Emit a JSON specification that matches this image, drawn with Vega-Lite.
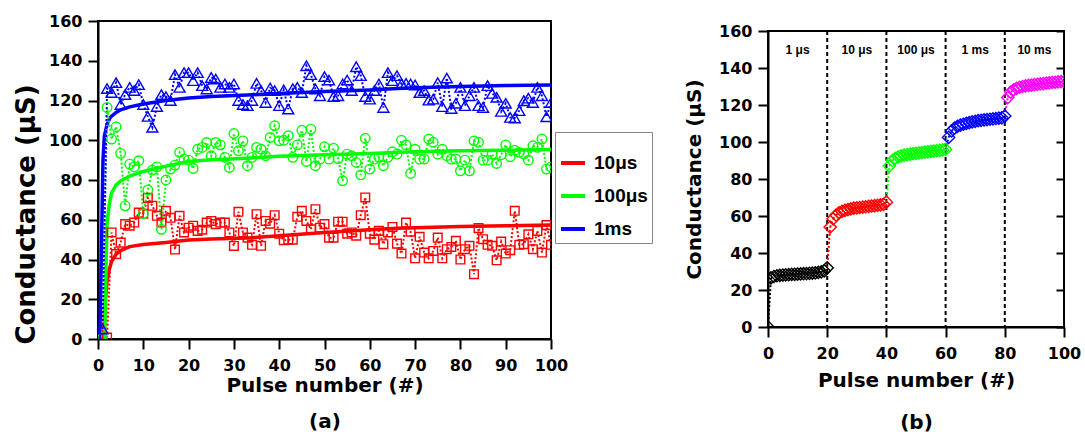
{
"$schema": "https://vega.github.io/schema/vega-lite/v6.json",
"background": "white",
"padding": {"left": 12, "top": 12, "right": 2, "bottom": 2},
"config": {
  "font": "DejaVu Sans",
  "view": {"stroke": "black", "strokeWidth": 2},
  "axis": {"domainColor": "black", "domainWidth": 2, "tickColor": "black", "tickWidth": 2, "tickSize": 10, "labelFont": "DejaVu Sans", "labelFontWeight": "bold", "labelFontSize": 16, "labelColor": "black", "labelOverlap": false, "labelFlush": false, "titleFont": "DejaVu Sans", "titleFontWeight": "bold", "titleColor": "black", "grid": false, "labelPadding": 6}
},
"spacing": 29,
"resolve": {"scale": {"color": "independent", "x": "independent", "y": "independent"}},
"datasets": {
  "raw": [
    {"n":2,"v":0.7,"s":"10μs"},{"n":3,"v":53.6,"s":"10μs"},{"n":4,"v":42.7,"s":"10μs"},{"n":5,"v":48.5,"s":"10μs"},{"n":6,"v":57.8,"s":"10μs"},{"n":7,"v":57,"s":"10μs"},{"n":8,"v":58.6,"s":"10μs"},{"n":9,"v":63.6,"s":"10μs"},{"n":10,"v":63,"s":"10μs"},{"n":11,"v":71,"s":"10μs"},{"n":12,"v":67,"s":"10μs"},{"n":13,"v":62,"s":"10μs"},{"n":14,"v":58.6,"s":"10μs"},{"n":15,"v":64.5,"s":"10μs"},{"n":16,"v":61,"s":"10μs"},{"n":17,"v":45,"s":"10μs"},{"n":18,"v":62,"s":"10μs"},{"n":19,"v":53.6,"s":"10μs"},{"n":20,"v":56,"s":"10μs"},{"n":21,"v":57,"s":"10μs"},{"n":22,"v":54.4,"s":"10μs"},{"n":23,"v":55,"s":"10μs"},{"n":24,"v":58.6,"s":"10μs"},{"n":25,"v":59.4,"s":"10μs"},{"n":26,"v":57.8,"s":"10μs"},{"n":27,"v":58.6,"s":"10μs"},{"n":28,"v":58.6,"s":"10μs"},{"n":29,"v":53.6,"s":"10μs"},{"n":30,"v":46.8,"s":"10μs"},{"n":31,"v":64,"s":"10μs"},{"n":32,"v":53.6,"s":"10μs"},{"n":33,"v":51,"s":"10μs"},{"n":34,"v":47.4,"s":"10μs"},{"n":35,"v":62.8,"s":"10μs"},{"n":36,"v":46.9,"s":"10μs"},{"n":37,"v":59.4,"s":"10μs"},{"n":38,"v":58,"s":"10μs"},{"n":39,"v":62.3,"s":"10μs"},{"n":40,"v":53,"s":"10μs"},{"n":41,"v":49.7,"s":"10μs"},{"n":42,"v":50,"s":"10μs"},{"n":43,"v":50,"s":"10μs"},{"n":44,"v":61.5,"s":"10μs"},{"n":45,"v":64.5,"s":"10μs"},{"n":46,"v":59.4,"s":"10μs"},{"n":47,"v":55.2,"s":"10μs"},{"n":48,"v":65.3,"s":"10μs"},{"n":49,"v":56,"s":"10μs"},{"n":50,"v":57.8,"s":"10μs"},{"n":51,"v":51,"s":"10μs"},{"n":52,"v":51,"s":"10μs"},{"n":53,"v":59,"s":"10μs"},{"n":54,"v":59,"s":"10μs"},{"n":55,"v":53,"s":"10μs"},{"n":56,"v":53.6,"s":"10μs"},{"n":57,"v":52,"s":"10μs"},{"n":58,"v":62.3,"s":"10μs"},{"n":59,"v":71.2,"s":"10μs"},{"n":60,"v":53,"s":"10μs"},{"n":61,"v":50,"s":"10μs"},{"n":62,"v":54.4,"s":"10μs"},{"n":63,"v":47.7,"s":"10μs"},{"n":64,"v":53.6,"s":"10μs"},{"n":65,"v":56.4,"s":"10μs"},{"n":66,"v":48,"s":"10μs"},{"n":67,"v":43,"s":"10μs"},{"n":68,"v":58.6,"s":"10μs"},{"n":69,"v":54,"s":"10μs"},{"n":70,"v":40.6,"s":"10μs"},{"n":71,"v":51.4,"s":"10μs"},{"n":72,"v":43.5,"s":"10μs"},{"n":73,"v":40.6,"s":"10μs"},{"n":74,"v":44.3,"s":"10μs"},{"n":75,"v":51,"s":"10μs"},{"n":76,"v":40.6,"s":"10μs"},{"n":77,"v":45.2,"s":"10μs"},{"n":78,"v":46.3,"s":"10μs"},{"n":79,"v":49.4,"s":"10μs"},{"n":80,"v":40,"s":"10μs"},{"n":81,"v":45.2,"s":"10μs"},{"n":82,"v":46.9,"s":"10μs"},{"n":83,"v":32.6,"s":"10μs"},{"n":84,"v":55.8,"s":"10μs"},{"n":85,"v":50.2,"s":"10μs"},{"n":86,"v":47.4,"s":"10μs"},{"n":87,"v":46.9,"s":"10μs"},{"n":88,"v":39.6,"s":"10μs"},{"n":89,"v":49,"s":"10μs"},{"n":90,"v":43,"s":"10μs"},{"n":91,"v":44.7,"s":"10μs"},{"n":92,"v":64.5,"s":"10μs"},{"n":93,"v":47.4,"s":"10μs"},{"n":94,"v":47.7,"s":"10μs"},{"n":95,"v":52.7,"s":"10μs"},{"n":96,"v":45.2,"s":"10μs"},{"n":97,"v":54.4,"s":"10μs"},{"n":98,"v":43.5,"s":"10μs"},{"n":99,"v":57.3,"s":"10μs"},{"n":100,"v":47.4,"s":"10μs"},
    {"n":1,"v":0.5,"s":"100μs"},{"n":2,"v":116.5,"s":"100μs"},{"n":3,"v":100.6,"s":"100μs"},{"n":4,"v":106.8,"s":"100μs"},{"n":5,"v":93.4,"s":"100μs"},{"n":6,"v":67,"s":"100μs"},{"n":7,"v":88,"s":"100μs"},{"n":8,"v":86.6,"s":"100μs"},{"n":9,"v":89.7,"s":"100μs"},{"n":10,"v":63,"s":"100μs"},{"n":11,"v":75,"s":"100μs"},{"n":12,"v":85,"s":"100μs"},{"n":13,"v":86.6,"s":"100μs"},{"n":14,"v":55.2,"s":"100μs"},{"n":15,"v":80,"s":"100μs"},{"n":16,"v":85.5,"s":"100μs"},{"n":17,"v":87.5,"s":"100μs"},{"n":18,"v":93.9,"s":"100μs"},{"n":19,"v":90.5,"s":"100μs"},{"n":20,"v":90,"s":"100μs"},{"n":21,"v":85.8,"s":"100μs"},{"n":22,"v":95.5,"s":"100μs"},{"n":23,"v":96.4,"s":"100μs"},{"n":24,"v":98.9,"s":"100μs"},{"n":25,"v":92.2,"s":"100μs"},{"n":26,"v":98.9,"s":"100μs"},{"n":27,"v":97.7,"s":"100μs"},{"n":28,"v":91.4,"s":"100μs"},{"n":29,"v":86.3,"s":"100μs"},{"n":30,"v":103.4,"s":"100μs"},{"n":31,"v":94.7,"s":"100μs"},{"n":32,"v":99.7,"s":"100μs"},{"n":33,"v":87.2,"s":"100μs"},{"n":34,"v":91.4,"s":"100μs"},{"n":35,"v":96.4,"s":"100μs"},{"n":36,"v":95.5,"s":"100μs"},{"n":37,"v":92.2,"s":"100μs"},{"n":38,"v":101.4,"s":"100μs"},{"n":39,"v":107.3,"s":"100μs"},{"n":40,"v":99.7,"s":"100μs"},{"n":41,"v":100,"s":"100μs"},{"n":42,"v":102.3,"s":"100μs"},{"n":43,"v":91.4,"s":"100μs"},{"n":44,"v":97.7,"s":"100μs"},{"n":45,"v":105,"s":"100μs"},{"n":46,"v":89.3,"s":"100μs"},{"n":47,"v":105.6,"s":"100μs"},{"n":48,"v":87.2,"s":"100μs"},{"n":49,"v":90.5,"s":"100μs"},{"n":50,"v":96.7,"s":"100μs"},{"n":51,"v":90.5,"s":"100μs"},{"n":52,"v":96,"s":"100μs"},{"n":53,"v":90.8,"s":"100μs"},{"n":54,"v":79.6,"s":"100μs"},{"n":55,"v":93,"s":"100μs"},{"n":56,"v":92.2,"s":"100μs"},{"n":57,"v":88.8,"s":"100μs"},{"n":58,"v":82.6,"s":"100μs"},{"n":59,"v":101,"s":"100μs"},{"n":60,"v":85.5,"s":"100μs"},{"n":61,"v":90.5,"s":"100μs"},{"n":62,"v":91.4,"s":"100μs"},{"n":63,"v":87.2,"s":"100μs"},{"n":64,"v":91.4,"s":"100μs"},{"n":65,"v":94.2,"s":"100μs"},{"n":66,"v":93,"s":"100μs"},{"n":67,"v":100,"s":"100μs"},{"n":68,"v":97.6,"s":"100μs"},{"n":69,"v":83.3,"s":"100μs"},{"n":70,"v":95.5,"s":"100μs"},{"n":71,"v":90.5,"s":"100μs"},{"n":72,"v":90.5,"s":"100μs"},{"n":73,"v":100.6,"s":"100μs"},{"n":74,"v":99,"s":"100μs"},{"n":75,"v":93,"s":"100μs"},{"n":76,"v":95.5,"s":"100μs"},{"n":77,"v":92.2,"s":"100μs"},{"n":78,"v":90.5,"s":"100μs"},{"n":79,"v":90.5,"s":"100μs"},{"n":80,"v":84.6,"s":"100μs"},{"n":81,"v":90,"s":"100μs"},{"n":82,"v":84.6,"s":"100μs"},{"n":83,"v":99.7,"s":"100μs"},{"n":84,"v":99,"s":"100μs"},{"n":85,"v":90,"s":"100μs"},{"n":86,"v":90,"s":"100μs"},{"n":87,"v":93,"s":"100μs"},{"n":88,"v":88.3,"s":"100μs"},{"n":89,"v":92.7,"s":"100μs"},{"n":90,"v":97.7,"s":"100μs"},{"n":91,"v":91.7,"s":"100μs"},{"n":92,"v":95,"s":"100μs"},{"n":93,"v":93.9,"s":"100μs"},{"n":94,"v":93,"s":"100μs"},{"n":95,"v":90,"s":"100μs"},{"n":96,"v":97.2,"s":"100μs"},{"n":97,"v":96.4,"s":"100μs"},{"n":98,"v":100.6,"s":"100μs"},{"n":99,"v":85.5,"s":"100μs"},{"n":100,"v":86.6,"s":"100μs"},
    {"n":1,"v":5,"s":"1ms"},{"n":2,"v":126,"s":"1ms"},{"n":3,"v":124,"s":"1ms"},{"n":4,"v":129,"s":"1ms"},{"n":5,"v":118,"s":"1ms"},{"n":6,"v":123,"s":"1ms"},{"n":7,"v":126.6,"s":"1ms"},{"n":8,"v":125,"s":"1ms"},{"n":9,"v":128,"s":"1ms"},{"n":10,"v":118,"s":"1ms"},{"n":11,"v":112,"s":"1ms"},{"n":12,"v":106.5,"s":"1ms"},{"n":13,"v":117,"s":"1ms"},{"n":14,"v":123,"s":"1ms"},{"n":15,"v":122,"s":"1ms"},{"n":16,"v":120,"s":"1ms"},{"n":17,"v":133,"s":"1ms"},{"n":18,"v":126.6,"s":"1ms"},{"n":19,"v":134,"s":"1ms"},{"n":20,"v":134,"s":"1ms"},{"n":21,"v":130,"s":"1ms"},{"n":22,"v":134,"s":"1ms"},{"n":23,"v":127.5,"s":"1ms"},{"n":24,"v":125.8,"s":"1ms"},{"n":25,"v":131.6,"s":"1ms"},{"n":26,"v":130.8,"s":"1ms"},{"n":27,"v":126.6,"s":"1ms"},{"n":28,"v":128.3,"s":"1ms"},{"n":29,"v":126.6,"s":"1ms"},{"n":30,"v":128.3,"s":"1ms"},{"n":31,"v":120,"s":"1ms"},{"n":32,"v":118,"s":"1ms"},{"n":33,"v":117.4,"s":"1ms"},{"n":34,"v":120,"s":"1ms"},{"n":35,"v":128.6,"s":"1ms"},{"n":36,"v":125,"s":"1ms"},{"n":37,"v":119,"s":"1ms"},{"n":38,"v":126.3,"s":"1ms"},{"n":39,"v":125,"s":"1ms"},{"n":40,"v":117.4,"s":"1ms"},{"n":41,"v":125.3,"s":"1ms"},{"n":42,"v":115.7,"s":"1ms"},{"n":43,"v":126,"s":"1ms"},{"n":44,"v":126.6,"s":"1ms"},{"n":45,"v":124,"s":"1ms"},{"n":46,"v":137.5,"s":"1ms"},{"n":47,"v":133,"s":"1ms"},{"n":48,"v":125.8,"s":"1ms"},{"n":49,"v":122.4,"s":"1ms"},{"n":50,"v":132,"s":"1ms"},{"n":51,"v":130.3,"s":"1ms"},{"n":52,"v":122,"s":"1ms"},{"n":53,"v":122.4,"s":"1ms"},{"n":54,"v":128.3,"s":"1ms"},{"n":55,"v":130.3,"s":"1ms"},{"n":56,"v":125,"s":"1ms"},{"n":57,"v":137,"s":"1ms"},{"n":58,"v":132.5,"s":"1ms"},{"n":59,"v":122,"s":"1ms"},{"n":60,"v":120.7,"s":"1ms"},{"n":61,"v":125,"s":"1ms"},{"n":62,"v":128.3,"s":"1ms"},{"n":63,"v":116.5,"s":"1ms"},{"n":64,"v":134,"s":"1ms"},{"n":65,"v":130,"s":"1ms"},{"n":66,"v":132.5,"s":"1ms"},{"n":67,"v":128.3,"s":"1ms"},{"n":68,"v":128.6,"s":"1ms"},{"n":69,"v":128.3,"s":"1ms"},{"n":70,"v":127.8,"s":"1ms"},{"n":71,"v":124,"s":"1ms"},{"n":72,"v":125,"s":"1ms"},{"n":73,"v":120.2,"s":"1ms"},{"n":74,"v":120.7,"s":"1ms"},{"n":75,"v":129,"s":"1ms"},{"n":76,"v":116.9,"s":"1ms"},{"n":77,"v":131.3,"s":"1ms"},{"n":78,"v":116,"s":"1ms"},{"n":79,"v":118.6,"s":"1ms"},{"n":80,"v":126.6,"s":"1ms"},{"n":81,"v":117.4,"s":"1ms"},{"n":82,"v":122.4,"s":"1ms"},{"n":83,"v":126.6,"s":"1ms"},{"n":84,"v":117.4,"s":"1ms"},{"n":85,"v":116.5,"s":"1ms"},{"n":86,"v":127.5,"s":"1ms"},{"n":87,"v":123.6,"s":"1ms"},{"n":88,"v":121.6,"s":"1ms"},{"n":89,"v":114.5,"s":"1ms"},{"n":90,"v":118.6,"s":"1ms"},{"n":91,"v":111.5,"s":"1ms"},{"n":92,"v":111.2,"s":"1ms"},{"n":93,"v":114.9,"s":"1ms"},{"n":94,"v":119.9,"s":"1ms"},{"n":95,"v":121.2,"s":"1ms"},{"n":96,"v":119,"s":"1ms"},{"n":97,"v":126.6,"s":"1ms"},{"n":98,"v":122.4,"s":"1ms"},{"n":99,"v":111.8,"s":"1ms"},{"n":100,"v":119,"s":"1ms"}
  ],
  "fit": [
    {"n":1.2,"v":0,"s":"10μs"},{"n":1.5,"v":17,"s":"10μs"},{"n":2,"v":29,"s":"10μs"},{"n":2.5,"v":35,"s":"10μs"},{"n":3,"v":39,"s":"10μs"},{"n":4,"v":42.7,"s":"10μs"},{"n":5,"v":44.5,"s":"10μs"},{"n":7,"v":46.5,"s":"10μs"},{"n":10,"v":47.5,"s":"10μs"},{"n":15,"v":48.6,"s":"10μs"},{"n":20,"v":49.8,"s":"10μs"},{"n":25,"v":50.3,"s":"10μs"},{"n":33,"v":50.8,"s":"10μs"},{"n":40,"v":52,"s":"10μs"},{"n":50,"v":53.6,"s":"10μs"},{"n":60,"v":55,"s":"10μs"},{"n":66,"v":55.7,"s":"10μs"},{"n":70,"v":56,"s":"10μs"},{"n":80,"v":56.6,"s":"10μs"},{"n":90,"v":57,"s":"10μs"},{"n":100,"v":57.3,"s":"10μs"},
    {"n":1.5,"v":0,"s":"100μs"},{"n":1.8,"v":40,"s":"100μs"},{"n":2,"v":58,"s":"100μs"},{"n":2.5,"v":68,"s":"100μs"},{"n":3,"v":73.5,"s":"100μs"},{"n":4,"v":77.5,"s":"100μs"},{"n":5,"v":79.5,"s":"100μs"},{"n":7,"v":82,"s":"100μs"},{"n":10,"v":84.3,"s":"100μs"},{"n":15,"v":87,"s":"100μs"},{"n":20,"v":89.3,"s":"100μs"},{"n":25,"v":90.2,"s":"100μs"},{"n":33,"v":91,"s":"100μs"},{"n":40,"v":92,"s":"100μs"},{"n":50,"v":92.7,"s":"100μs"},{"n":60,"v":93.3,"s":"100μs"},{"n":70,"v":94.2,"s":"100μs"},{"n":80,"v":94.7,"s":"100μs"},{"n":90,"v":95,"s":"100μs"},{"n":100,"v":95.3,"s":"100μs"},
    {"n":0.4,"v":0,"s":"1ms"},{"n":0.8,"v":50,"s":"1ms"},{"n":1.1,"v":90,"s":"1ms"},{"n":1.4,"v":102,"s":"1ms"},{"n":2,"v":108,"s":"1ms"},{"n":2.7,"v":111.5,"s":"1ms"},{"n":4,"v":114,"s":"1ms"},{"n":5,"v":115.3,"s":"1ms"},{"n":7,"v":116.8,"s":"1ms"},{"n":10,"v":118.2,"s":"1ms"},{"n":15,"v":120,"s":"1ms"},{"n":20,"v":121.3,"s":"1ms"},{"n":25,"v":122,"s":"1ms"},{"n":33,"v":122.8,"s":"1ms"},{"n":40,"v":123.5,"s":"1ms"},{"n":50,"v":124.5,"s":"1ms"},{"n":60,"v":125.3,"s":"1ms"},{"n":66,"v":126,"s":"1ms"},{"n":70,"v":126.4,"s":"1ms"},{"n":80,"v":127,"s":"1ms"},{"n":90,"v":127.5,"s":"1ms"},{"n":100,"v":127.8,"s":"1ms"}
  ],
  "steps": [
    {"x":0,"y":0,"g":"1 μs"},{"x":1,"y":26.5,"g":"1 μs"},{"x":2,"y":27.3,"g":"1 μs"},{"x":3,"y":27.7,"g":"1 μs"},{"x":4,"y":27.9,"g":"1 μs"},{"x":5,"y":28.1,"g":"1 μs"},{"x":6,"y":28.2,"g":"1 μs"},{"x":7,"y":28.3,"g":"1 μs"},{"x":8,"y":28.4,"g":"1 μs"},{"x":9,"y":28.5,"g":"1 μs"},{"x":10,"y":28.6,"g":"1 μs"},{"x":11,"y":28.7,"g":"1 μs"},{"x":12,"y":28.8,"g":"1 μs"},{"x":13,"y":28.9,"g":"1 μs"},{"x":14,"y":29,"g":"1 μs"},{"x":15,"y":29.1,"g":"1 μs"},{"x":16,"y":29.3,"g":"1 μs"},{"x":17,"y":29.5,"g":"1 μs"},{"x":18,"y":29.8,"g":"1 μs"},{"x":19,"y":30.3,"g":"1 μs"},{"x":20,"y":32,"g":"1 μs"},
    {"x":21,"y":54,"g":"10 μs"},{"x":22,"y":58.5,"g":"10 μs"},{"x":23,"y":60.5,"g":"10 μs"},{"x":24,"y":61.7,"g":"10 μs"},{"x":25,"y":62.5,"g":"10 μs"},{"x":26,"y":63.1,"g":"10 μs"},{"x":27,"y":63.5,"g":"10 μs"},{"x":28,"y":63.9,"g":"10 μs"},{"x":29,"y":64.2,"g":"10 μs"},{"x":30,"y":64.4,"g":"10 μs"},{"x":31,"y":64.6,"g":"10 μs"},{"x":32,"y":64.8,"g":"10 μs"},{"x":33,"y":65,"g":"10 μs"},{"x":34,"y":65.2,"g":"10 μs"},{"x":35,"y":65.4,"g":"10 μs"},{"x":36,"y":65.6,"g":"10 μs"},{"x":37,"y":65.8,"g":"10 μs"},{"x":38,"y":66,"g":"10 μs"},{"x":39,"y":66.3,"g":"10 μs"},{"x":40,"y":67.5,"g":"10 μs"},
    {"x":41,"y":87,"g":"100 μs"},{"x":42,"y":90,"g":"100 μs"},{"x":43,"y":91.2,"g":"100 μs"},{"x":44,"y":92,"g":"100 μs"},{"x":45,"y":92.5,"g":"100 μs"},{"x":46,"y":92.9,"g":"100 μs"},{"x":47,"y":93.2,"g":"100 μs"},{"x":48,"y":93.5,"g":"100 μs"},{"x":49,"y":93.7,"g":"100 μs"},{"x":50,"y":93.9,"g":"100 μs"},{"x":51,"y":94.1,"g":"100 μs"},{"x":52,"y":94.3,"g":"100 μs"},{"x":53,"y":94.5,"g":"100 μs"},{"x":54,"y":94.7,"g":"100 μs"},{"x":55,"y":94.9,"g":"100 μs"},{"x":56,"y":95.1,"g":"100 μs"},{"x":57,"y":95.3,"g":"100 μs"},{"x":58,"y":95.5,"g":"100 μs"},{"x":59,"y":95.7,"g":"100 μs"},{"x":60,"y":96,"g":"100 μs"},
    {"x":61,"y":102.5,"g":"1 ms"},{"x":62,"y":106,"g":"1 ms"},{"x":63,"y":107.5,"g":"1 ms"},{"x":64,"y":108.4,"g":"1 ms"},{"x":65,"y":109.1,"g":"1 ms"},{"x":66,"y":109.6,"g":"1 ms"},{"x":67,"y":110.1,"g":"1 ms"},{"x":68,"y":110.5,"g":"1 ms"},{"x":69,"y":110.9,"g":"1 ms"},{"x":70,"y":111.2,"g":"1 ms"},{"x":71,"y":111.5,"g":"1 ms"},{"x":72,"y":111.7,"g":"1 ms"},{"x":73,"y":111.9,"g":"1 ms"},{"x":74,"y":112.1,"g":"1 ms"},{"x":75,"y":112.3,"g":"1 ms"},{"x":76,"y":112.5,"g":"1 ms"},{"x":77,"y":112.7,"g":"1 ms"},{"x":78,"y":112.9,"g":"1 ms"},{"x":79,"y":113.1,"g":"1 ms"},{"x":80,"y":114,"g":"1 ms"},
    {"x":81,"y":124,"g":"10 ms"},{"x":82,"y":127,"g":"10 ms"},{"x":83,"y":128.2,"g":"10 ms"},{"x":84,"y":129,"g":"10 ms"},{"x":85,"y":129.6,"g":"10 ms"},{"x":86,"y":130,"g":"10 ms"},{"x":87,"y":130.3,"g":"10 ms"},{"x":88,"y":130.6,"g":"10 ms"},{"x":89,"y":130.8,"g":"10 ms"},{"x":90,"y":131,"g":"10 ms"},{"x":91,"y":131.2,"g":"10 ms"},{"x":92,"y":131.4,"g":"10 ms"},{"x":93,"y":131.6,"g":"10 ms"},{"x":94,"y":131.8,"g":"10 ms"},{"x":95,"y":132,"g":"10 ms"},{"x":96,"y":132.2,"g":"10 ms"},{"x":97,"y":132.3,"g":"10 ms"},{"x":98,"y":132.5,"g":"10 ms"},{"x":99,"y":132.6,"g":"10 ms"},{"x":100,"y":132.8,"g":"10 ms"}
  ],
  "bounds": [{"b":20},{"b":40},{"b":60},{"b":80}],
  "labs": [{"m":10,"t":"1 μs"},{"m":30,"t":"10 μs"},{"m":50,"t":"100 μs"},{"m":70,"t":"1 ms"},{"m":90,"t":"10 ms"}]
},
"hconcat": [
  {
    "width": 453, "height": 318,
    "encoding": {
      "x": {"field": "n", "type": "quantitative", "scale": {"domain": [0, 100], "nice": false}, "axis": {"values": [0,10,20,30,40,50,60,70,80,90,100], "tickCount": 11, "labelOverlap": false, "labelFlush": false, "title": ["Pulse number (#)", "(a)"], "titleFontSize": 20, "titleLineHeight": 36, "titlePadding": 2, "labelPadding": 8}},
      "y": {"field": "v", "type": "quantitative", "scale": {"domain": [0, 160], "nice": false}, "axis": {"values": [0,20,40,60,80,100,120,140,160], "tickCount": 9, "labelOverlap": false, "title": "Conductance (μS)", "titleFontSize": 26, "titlePadding": 9, "titleY": 193}},
      "color": {"field": "s", "type": "nominal", "scale": {"domain": ["10μs", "100μs", "1ms"], "range": ["#ff0000", "#00ff00", "#0000ff"]},
        "legend": {"orient": "none", "legendX": 457, "legendY": 111, "title": " ", "titleFontSize": 9, "titlePadding": 4, "strokeColor": "#888888", "padding": 4, "symbolType": "stroke", "symbolStrokeWidth": 4, "symbolSize": 576, "symbolDash": [1, 0], "labelFont": "Liberation Sans", "labelFontWeight": "bold", "labelFontSize": 19, "labelColor": "black", "rowPadding": 9, "labelOffset": 7}}
    },
    "layer": [
      {"data": {"name": "fit"}, "mark": {"type": "line", "strokeWidth": 3.5, "clip": true}},
      {"data": {"name": "raw"}, "mark": {"type": "line", "strokeDash": [2, 2], "strokeWidth": 2, "clip": true}},
      {"data": {"name": "raw"}, "transform": [{"filter": "datum.s === '10μs'"}],
       "mark": {"type": "point", "shape": "square", "filled": false, "size": 75, "strokeWidth": 1.4, "opacity": 1, "clip": true}},
      {"data": {"name": "raw"}, "transform": [{"filter": "datum.s === '100μs'"}],
       "mark": {"type": "point", "shape": "circle", "filled": false, "size": 90, "strokeWidth": 1.4, "opacity": 1, "clip": true}},
      {"data": {"name": "raw"}, "transform": [{"filter": "datum.s === '1ms'"}],
       "mark": {"type": "point", "shape": "triangle-up", "filled": false, "size": 120, "strokeWidth": 1.4, "opacity": 1, "clip": true}}
    ]
  },
  {
    "spacing": 0,
    "vconcat": [
      {"width": 296, "height": 1, "data": {"values": []}, "mark": "point", "view": {"stroke": null}},
      {
        "width": 296, "height": 296,
        "layer": [
          {"data": {"name": "bounds"},
           "mark": {"type": "rule", "strokeDash": [4, 3], "strokeWidth": 2, "color": "black"},
           "encoding": {"x": {"field": "b", "type": "quantitative", "scale": {"domain": [0, 100], "nice": false}, "axis": {"values": [0,20,40,60,80,100], "labelOverlap": false, "labelFlush": false, "title": ["Pulse number (#)", "(b)"], "titleFontSize": 20, "titleLineHeight": 42, "titlePadding": 9, "labelPadding": 8}}}},
          {"data": {"name": "steps"},
           "transform": [{"window": [{"op": "lag", "field": "x", "as": "xp"}, {"op": "lag", "field": "y", "as": "yp"}], "sort": [{"field": "x", "order": "ascending"}]}],
           "mark": {"type": "rule", "strokeDash": [2, 2], "strokeWidth": 2},
           "encoding": {
             "x": {"field": "xp", "type": "quantitative"},
             "y": {"field": "yp", "type": "quantitative", "scale": {"domain": [0, 160], "nice": false}, "axis": {"values": [0,20,40,60,80,100,120,140,160], "labelOverlap": false, "title": "Conductance (μS)", "titleFontSize": 20, "titlePadding": 14}},
             "x2": {"field": "x"},
             "y2": {"field": "y"},
             "color": {"field": "g", "type": "nominal", "scale": {"domain": ["1 μs", "10 μs", "100 μs", "1 ms", "10 ms"], "range": ["#000000", "#ff0000", "#00ff00", "#0000ff", "#ff00ff"]}, "legend": null}
           }},
          {"data": {"name": "steps"},
           "mark": {"type": "point", "shape": "diamond", "filled": false, "size": 150, "strokeWidth": 1.4, "opacity": 1, "clip": true},
           "encoding": {
             "x": {"field": "x", "type": "quantitative"},
             "y": {"field": "y", "type": "quantitative", "axis": {"orient": "right", "values": [0,20,40,60,80,100,120,140,160], "labels": false, "domain": false, "tickSize": -8, "title": null}},
             "color": {"field": "g", "type": "nominal", "legend": null}
           }},
          {"data": {"name": "labs"},
           "mark": {"type": "text", "font": "Liberation Sans", "fontWeight": "bold", "fontSize": 12, "color": "black"},
           "encoding": {
             "x": {"field": "m", "type": "quantitative"},
             "y": {"datum": 150, "type": "quantitative", "axis": null},
             "text": {"field": "t"}
           }}
        ],
        "resolve": {"axis": {"y": "independent"}}
      }
    ]
  }
]
}
